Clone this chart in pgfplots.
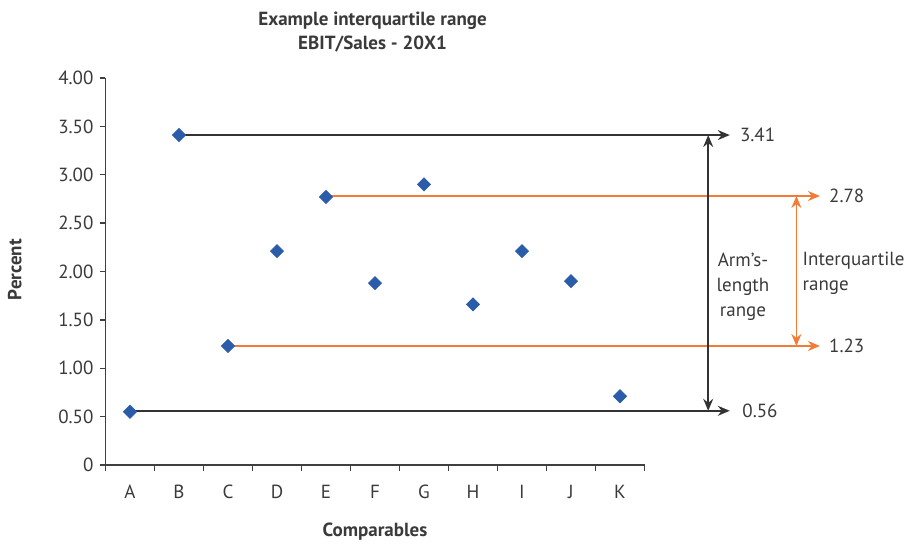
\documentclass[border=0pt]{standalone}
\usepackage{fontspec}
\setmainfont{PT Sans}
\usepackage{pgfplots}
\pgfplotsset{compat=1.18}
\usetikzlibrary{arrows.meta}
\definecolor{txt}{HTML}{3A3A3A}
\definecolor{axc}{HTML}{404040}
\definecolor{lnc}{HTML}{333333}
\definecolor{mk}{HTML}{2B5CAA}
\definecolor{org}{HTML}{F27B35}
\begin{document}
\begin{tikzpicture}
\begin{axis}[
  scale only axis, width=269.5pt, height=193.5pt,
  xmin=-0.5, xmax=10.5, ymin=0, ymax=4,
  axis x line=bottom, axis y line=left,
  axis line style={-, draw=axc, line width=0.7pt},
  xtick={0,1,2,3,4,5,6,7,8,9,10},
  xticklabels={A,B,C,D,E,F,G,H,I,J,K},
  major x tick style={draw=none},
  minor xtick={-0.5,0.5,1.5,2.5,3.5,4.5,5.5,6.5,7.5,8.5,9.5,10.5},
  ytick={0,0.5,1,1.5,2,2.5,3,3.5,4},
  yticklabels={0,0.50,1.00,1.50,2.00,2.50,3.00,3.50,4.00},
  tick align=outside, major tick length=2.5pt, minor tick length=3pt,
  tick style={draw=axc, line width=0.7pt},
  every tick label/.style={text=txt},
  xticklabel style={yshift=-4pt},
  font=\fontsize{9.5}{12.5}\selectfont,
  /pgf/number format/assume math mode=true,
  clip=false,
  title={\textbf{Example interquartile range}\\\textbf{EBIT/Sales - 20X1}},
  title style={at={(axis cs:4.95,4.475)}, anchor=center, yshift=-6pt, align=center, text=txt, font=\fontsize{9.5}{12}\selectfont},
  xlabel={\textbf{Comparables}},
  xlabel style={at={(axis cs:5,-0.69)}, anchor=center, text=txt},
  ylabel={\textbf{Percent}},
  ylabel style={at={(axis cs:-2.35,2.02)}, anchor=center, text=txt},
]
\path (axis cs:-2.653,-0.806) rectangle (axis cs:16,4.806);
% range lines
\addplot[lnc, line width=0.75pt, -{Stealth[length=6pt,width=5pt,inset=2pt]}] coordinates {(1,3.41) (12.24,3.41)};
\addplot[lnc, line width=0.75pt, -{Stealth[length=6pt,width=5pt,inset=2pt]}] coordinates {(0,0.56) (12.24,0.56)};
\addplot[org, line width=0.75pt, -{Stealth[length=6pt,width=5pt,inset=2pt]}] coordinates {(4,2.78) (14.08,2.78)};
\addplot[org, line width=0.75pt, -{Stealth[length=6pt,width=5pt,inset=2pt]}] coordinates {(2,1.23) (14.08,1.23)};
\addplot[lnc, line width=0.75pt, {Stealth[length=6pt,width=5pt,inset=2pt]}-{Stealth[length=6pt,width=5pt,inset=2pt]}] coordinates {(11.8,0.56) (11.8,3.41)};
\addplot[org, line width=0.75pt, {Stealth[length=6pt,width=5pt,inset=2pt]}-{Stealth[length=6pt,width=5pt,inset=2pt]}] coordinates {(13.6,1.23) (13.6,2.78)};
% data
\addplot[only marks, mark=square*, mark size=2.3pt, mark options={rotate=45, fill=mk, draw=mk}]
  coordinates {(0,0.55) (1,3.41) (2,1.23) (3,2.21) (4,2.77) (5,1.88) (6,2.90) (7,1.66) (8,2.21) (9,1.90) (10,0.71)};
% labels
\node[anchor=west, text=txt, inner sep=1pt] at (axis cs:12.4,3.41) {3.41};
\node[anchor=west, text=txt, inner sep=1pt] at (axis cs:12.45,0.56) {0.56};
\node[anchor=west, text=txt, inner sep=1pt] at (axis cs:14.22,2.78) {2.78};
\node[anchor=west, text=txt, inner sep=1pt] at (axis cs:14.22,1.23) {1.23};
\node[align=center, text=txt, inner sep=0pt] at (axis cs:12.51,1.84) {Arm’s-\\length\\range};
\node[align=left, anchor=west, text=txt, inner sep=0pt] at (axis cs:13.72,1.98) {Interquartile\\range};
\end{axis}
\end{tikzpicture}
\end{document}
